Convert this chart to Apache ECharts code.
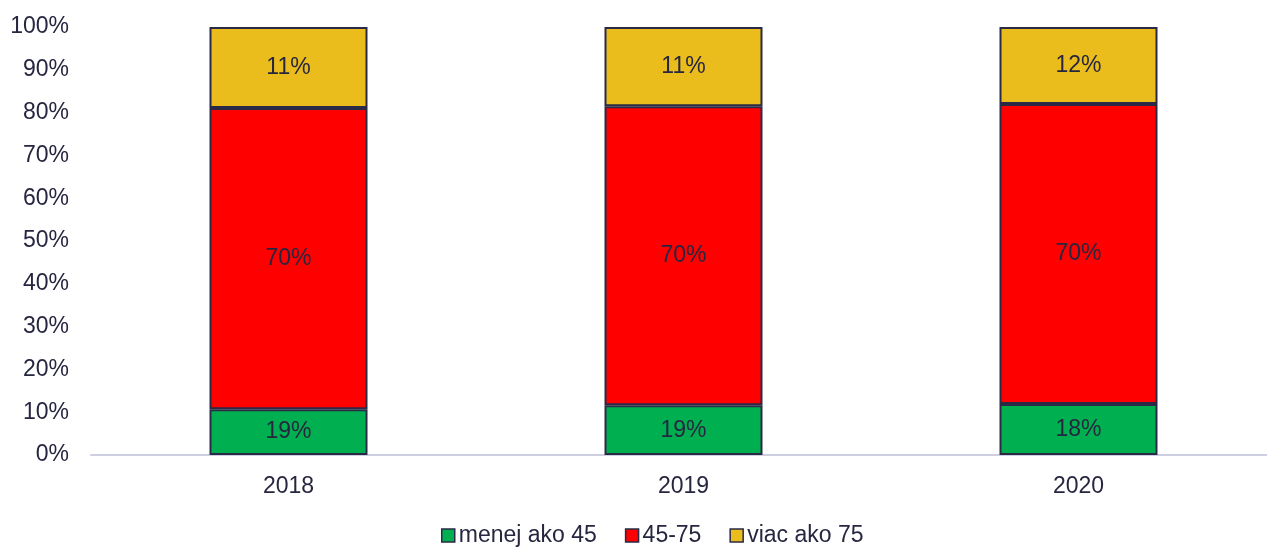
<!DOCTYPE html>
<html>
<head>
    <meta charset="utf-8">
    <title>Vekové skupiny</title>
    <script src="https://cdn.jsdelivr.net/npm/echarts@6/dist/echarts.min.js"></script>
    <style>
        html, body { margin: 0; padding: 0; background: #fff; }
    </style>
</head>
<body>
    <div id="main" style="width: 1267px;height:547px;"></div>
    <script type="text/javascript">
        // categories and series (bar heights in %)
        var years = ['2018', '2019', '2020'];
        var seriesNames = ['menej ako 45', '45-75', 'viac ako 75'];
        var under45 = [10.7, 11.6, 11.9];
        var mid4575 = [70.4, 69.9, 70.1];
        var over75 = [18.9, 18.5, 18.0];
        // data labels as printed on the bars
        var under45Labels = ['19%', '19%', '18%'];
        var mid4575Labels = ['70%', '70%', '70%'];
        var over75Labels = ['11%', '11%', '12%'];
        var yTicks = [0, 10, 20, 30, 40, 50, 60, 70, 80, 90, 100];

        var textColor = '#262640';
        var font = 'Liberation Sans';
        var fs = 23;

        function makeSeries(name, values, labels, color) {
            return {
                name: name,
                type: 'bar',
                stack: 'total',
                barWidth: 158,
                data: values,
                itemStyle: { color: color, borderColor: '#2a2a46', borderWidth: 2 },
                label: {
                    show: true,
                    position: 'inside',
                    color: textColor,
                    fontFamily: font,
                    fontSize: fs,
                    formatter: function (p) { return labels[p.dataIndex]; }
                },
                animation: false
            };
        }

        var myChart = echarts.init(document.getElementById('main'));
        var option = {
            animation: false,
            grid: {
                left: 91, width: 1185, top: 27, bottom: 92,
                containLabel: false,
                outerBoundsMode: 'none'
            },
            legend: {
                top: 519,
                left: 436,
                icon: 'rect',
                itemWidth: 13,
                itemHeight: 13,
                itemGap: 28,
                textStyle: { color: textColor, fontFamily: font, fontSize: fs, padding: [0, 0, 0, -1] },
                itemStyle: { borderColor: '#2a2a46', borderWidth: 1.5 },
                data: seriesNames
            },
            xAxis: {
                type: 'category',
                data: years,
                axisLine: { lineStyle: { color: '#cfcfe2', width: 2 } },
                axisTick: { show: false },
                axisLabel: { color: textColor, fontFamily: font, fontSize: fs, margin: 20 }
            },
            yAxis: {
                type: 'value',
                min: 0,
                max: 100,
                interval: 10,
                splitLine: { show: false },
                axisLine: { show: false },
                axisTick: { show: false },
                axisLabel: {
                    color: textColor,
                    fontFamily: font,
                    fontSize: fs,
                    margin: 22,
                    formatter: function (v) { return yTicks.indexOf(v) >= 0 ? v + '%' : ''; }
                }
            },
            series: [
                makeSeries(seriesNames[0], under45, under45Labels, '#00b050'),
                makeSeries(seriesNames[1], mid4575, mid4575Labels, '#ff0000'),
                makeSeries(seriesNames[2], over75, over75Labels, '#ebbd1c')
            ]
        };

        myChart.setOption(option);
    </script>
</body>
</html>
